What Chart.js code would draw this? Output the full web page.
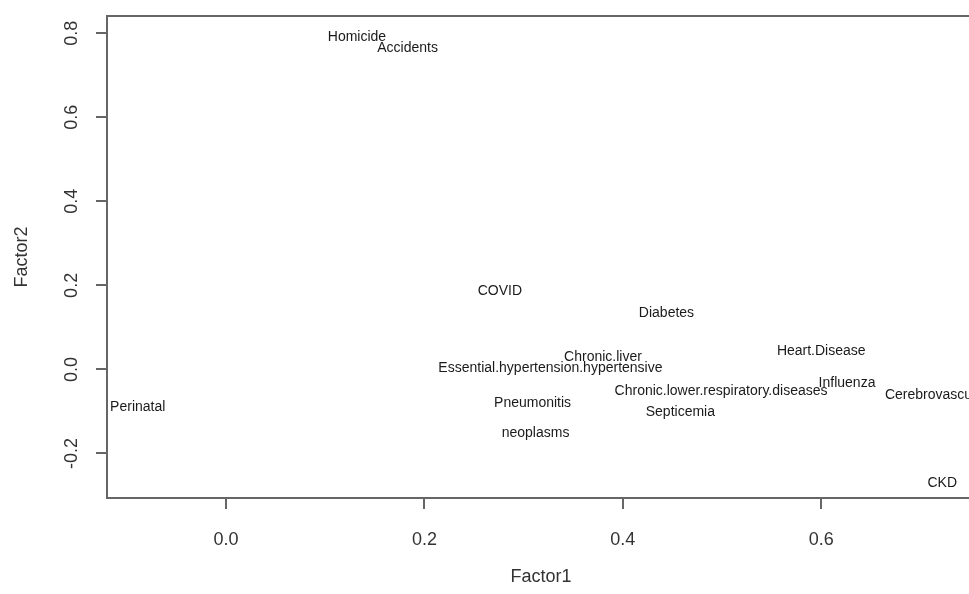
<!DOCTYPE html>
<html lang="en">
<head>
<meta charset="utf-8">
<title>Factor loadings: causes of death</title>
<script src="https://cdn.jsdelivr.net/npm/chart.js@4/dist/chart.umd.min.js"></script>
<style>
  html, body { margin: 0; padding: 0; background: #fff; overflow: hidden; }
</style>
</head>
<body>
<canvas id="factorChart" width="1000" height="594"></canvas>
<script>
// loadings (label centre = point)
const causes = [
  "Homicide", "Accidents", "COVID", "Diabetes", "Heart.Disease",
  "Chronic.liver", "Essential.hypertension.hypertensive", "Influenza",
  "Chronic.lower.respiratory.diseases", "Cerebrovascular", "Perinatal",
  "Pneumonitis", "Septicemia", "neoplasms", "CKD"
];
const factor1 = [0.132, 0.183, 0.276, 0.444, 0.600, 0.380, 0.327, 0.626, 0.499, 0.716, -0.089, 0.309, 0.458, 0.312, 0.722];
const factor2 = [0.791, 0.765, 0.186, 0.134, 0.044, 0.029, 0.003, -0.033, -0.052, -0.062, -0.090, -0.080, -0.101, -0.152, -0.271];

const xTicks = [0.0, 0.2, 0.4, 0.6];
const yTicks = [-0.2, 0.0, 0.2, 0.4, 0.6, 0.8];

const FONT = "'Liberation Sans', Arial, sans-serif";
const INK = "#333";
const FRAME = "#666";

// text labels at each point, clipped to the plot box like R's text()
const pointLabels = {
  id: "pointLabels",
  afterDatasetsDraw(chart) {
    const { ctx, chartArea: a } = chart;
    const meta = chart.getDatasetMeta(0);
    ctx.save();
    ctx.beginPath();
    ctx.rect(a.left, a.top, a.right - a.left, a.bottom - a.top);
    ctx.clip();
    ctx.font = "14px " + FONT;
    ctx.fillStyle = "#1a1a1a";
    ctx.textAlign = "center";
    ctx.textBaseline = "middle";
    meta.data.forEach((pt, i) => ctx.fillText(causes[i], pt.x, pt.y));
    ctx.restore();
  }
};

// box around the plot + rotated y tick labels
const frame = {
  id: "frame",
  afterDraw(chart) {
    const { ctx, chartArea: a, scales } = chart;
    ctx.save();
    ctx.strokeStyle = FRAME;
    ctx.lineWidth = 2;
    ctx.strokeRect(a.left, a.top, a.right - a.left, a.bottom - a.top);

    ctx.font = "18px " + FONT;
    ctx.fillStyle = INK;
    ctx.textAlign = "center";
    ctx.textBaseline = "middle";
    yTicks.forEach((v) => {
      const y = scales.y.getPixelForValue(v);
      ctx.save();
      ctx.translate(a.left - 35, y);
      ctx.rotate(-Math.PI / 2);
      ctx.fillText(v.toFixed(1), 0, 0);
      ctx.restore();
    });
    ctx.restore();
  }
};

new Chart(document.getElementById("factorChart"), {
  type: "scatter",
  data: {
    datasets: [{
      label: "Loadings",
      data: factor1.map((x, i) => ({ x: x, y: factor2[i] })),
      pointRadius: 0,
      pointHoverRadius: 0
    }]
  },
  options: {
    responsive: false,
    animation: false,
    layout: { padding: { top: 16, right: 25, left: 0, bottom: 0 } },
    plugins: { legend: { display: false }, tooltip: { enabled: false } },
    scales: {
      x: {
        type: "linear",
        min: -0.12,
        max: 0.755,
        afterBuildTicks: (s) => { s.ticks = xTicks.map((v) => ({ value: v })); },
        afterFit: (s) => { s.height = 96; },
        border: { display: false },
        grid: { drawOnChartArea: false, drawTicks: true, tickLength: 11, color: FRAME, lineWidth: 2 },
        ticks: {
          font: { family: FONT, size: 18 },
          color: INK,
          padding: 20,
          maxRotation: 0,
          callback: (v) => Number(v).toFixed(1)
        },
        title: {
          display: true,
          text: "Factor1",
          font: { family: FONT, size: 18 },
          color: INK,
          padding: { top: 0, bottom: 6 }
        }
      },
      y: {
        type: "linear",
        min: -0.306,
        max: 0.841,
        afterBuildTicks: (s) => { s.ticks = yTicks.map((v) => ({ value: v })); },
        afterFit: (s) => { s.width = 107; },
        border: { display: false },
        grid: { drawOnChartArea: false, drawTicks: true, tickLength: 11, color: FRAME, lineWidth: 2 },
        ticks: { display: false },
        title: {
          display: true,
          text: "Factor2",
          font: { family: FONT, size: 18 },
          color: INK,
          padding: { top: 11, bottom: 0 }
        }
      }
    }
  },
  plugins: [pointLabels, frame]
});
</script>
</body>
</html>
